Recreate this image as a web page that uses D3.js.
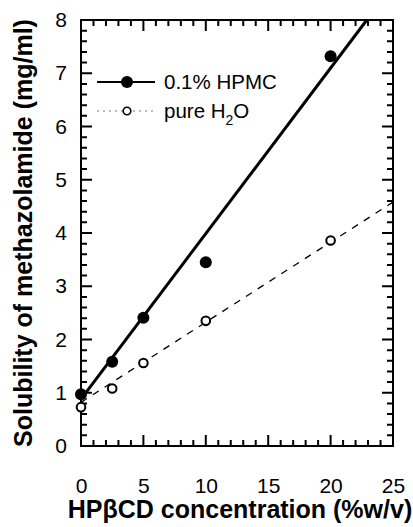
<!DOCTYPE html>
<meta charset="utf-8">
<style>
body { margin: 0; background: #fff; }
text { font-family: "Liberation Sans", Arial, sans-serif; fill: #000; }
.axis path.domain { display: none; }
.axis text { font-size: 21px; }
.title { font-weight: bold; font-size: 25px; }
.legend text { font-size: 20.5px; }
</style>
<body>
<svg width="413" height="527" id="chart"></svg>
<script src="https://d3js.org/d3.v7.min.js"></script>
<script>
// values
var conc = [0, 2.5, 5, 10, 20];
var hpmc = [0.97, 1.58, 2.41, 3.45, 7.32];
var water = [0.73, 1.08, 1.56, 2.35, 3.86];
// regression lines (end points)
var hpmcFit = [[0, 0.88], [22.9, 8]];
var waterFit = [[0, 0.82], [25, 4.58]];
var xTicks = [0, 5, 10, 15, 20, 25];
var yTicks = [0, 1, 2, 3, 4, 5, 6, 7, 8];
var xMinor = [1, 2, 3, 4, 6, 7, 8, 9, 11, 12, 13, 14, 16, 17, 18, 19, 21, 22, 23, 24];
var yMinor = [];
yTicks.slice(1).forEach(function(t) { [0.2, 0.4, 0.6, 0.8].forEach(function(f) { yMinor.push(t - 1 + f); }); });

var svg = d3.select("#chart"),
    margin = {top: 20, right: 20, bottom: 81, left: 81},
    width = +svg.attr("width") - margin.left - margin.right,
    height = +svg.attr("height") - margin.top - margin.bottom,
    g = svg.append("g").attr("transform", "translate(" + margin.left + "," + margin.top + ")");

var x = d3.scaleLinear().domain([0, 25]).range([0, width]);
var y = d3.scaleLinear().domain([0, 8]).range([height, 0]);

// tick labels
g.append("g").attr("class", "axis")
    .attr("transform", "translate(0," + height + ")")
    .call(d3.axisBottom(x).tickValues(xTicks).tickSize(0).tickPadding(32))
    .selectAll("line").remove();
g.append("g").attr("class", "axis")
    .call(d3.axisLeft(y).tickValues(yTicks).tickSize(0).tickPadding(14))
    .selectAll("line").remove();

// inward tick marks on all four sides, one path
var p = d3.path();
function xm(v, len) {
  var px = x(v);
  p.moveTo(px, height); p.lineTo(px, height - len);
  p.moveTo(px, 0); p.lineTo(px, len);
}
function ym(v, len) {
  var py = y(v);
  p.moveTo(0, py); p.lineTo(len, py);
  p.moveTo(width, py); p.lineTo(width - len, py);
}
xTicks.forEach(function(d) { xm(d, 11); });
xMinor.forEach(function(d) { xm(d, 6); });
yTicks.forEach(function(d) { ym(d, 11); });
yMinor.forEach(function(d) { ym(d, 6); });
g.append("path").attr("d", p.toString())
    .attr("fill", "none").attr("stroke", "#000").attr("stroke-width", 2);

g.append("rect")
    .attr("width", width).attr("height", height)
    .attr("fill", "none").attr("stroke", "#000").attr("stroke-width", 2);

var line = d3.line()
    .x(function(d) { return x(d[0]); })
    .y(function(d) { return y(d[1]); });

g.append("path").datum(waterFit)
    .attr("d", line).attr("fill", "none")
    .attr("stroke", "#000").attr("stroke-width", 1.3).attr("stroke-dasharray", "7,7");
g.append("path").datum(hpmcFit)
    .attr("d", line).attr("fill", "none")
    .attr("stroke", "#000").attr("stroke-width", 3);

g.selectAll(".dot-w").data(conc).enter().append("circle")
    .attr("cx", function(d) { return x(d); })
    .attr("cy", function(d, i) { return y(water[i]); })
    .attr("r", 4.3).attr("fill", "#fff").attr("stroke", "#000").attr("stroke-width", 2);
g.selectAll(".dot-h").data(conc).enter().append("circle")
    .attr("cx", function(d) { return x(d); })
    .attr("cy", function(d, i) { return y(hpmc[i]); })
    .attr("r", 6).attr("fill", "#000");

// legend
var leg = svg.append("g").attr("class", "legend");
leg.append("line").attr("x1", 97).attr("x2", 155).attr("y1", 82).attr("y2", 82)
    .attr("stroke", "#000").attr("stroke-width", 2);
leg.append("circle").attr("cx", 127).attr("cy", 82).attr("r", 6).attr("fill", "#000");
leg.append("text").attr("x", 164).attr("y", 89).text("0.1% HPMC");
leg.append("line").attr("x1", 97).attr("x2", 155).attr("y1", 111).attr("y2", 111)
    .attr("stroke", "#555").attr("stroke-width", 0.8).attr("stroke-dasharray", "2,4");
leg.append("circle").attr("cx", 127).attr("cy", 111).attr("r", 3.8)
    .attr("fill", "#fff").attr("stroke", "#000").attr("stroke-width", 1.6);
var t2 = leg.append("text").attr("x", 164).attr("y", 118);
t2.append("tspan").text("pure H");
t2.append("tspan").attr("dy", 7).style("font-size", "14px").text("2");
t2.append("tspan").attr("dy", -7).text("O");

// axis titles
svg.append("text").attr("class", "title")
    .attr("x", 240).attr("y", 518).attr("text-anchor", "middle")
    .text("HP\u03B2CD concentration (%w/v)");
svg.append("text").attr("class", "title")
    .attr("transform", "translate(32," + (margin.top + height / 2) + ") rotate(-90)")
    .attr("text-anchor", "middle")
    .text("Solubility of methazolamide (mg/ml)");
</script>
</body>
